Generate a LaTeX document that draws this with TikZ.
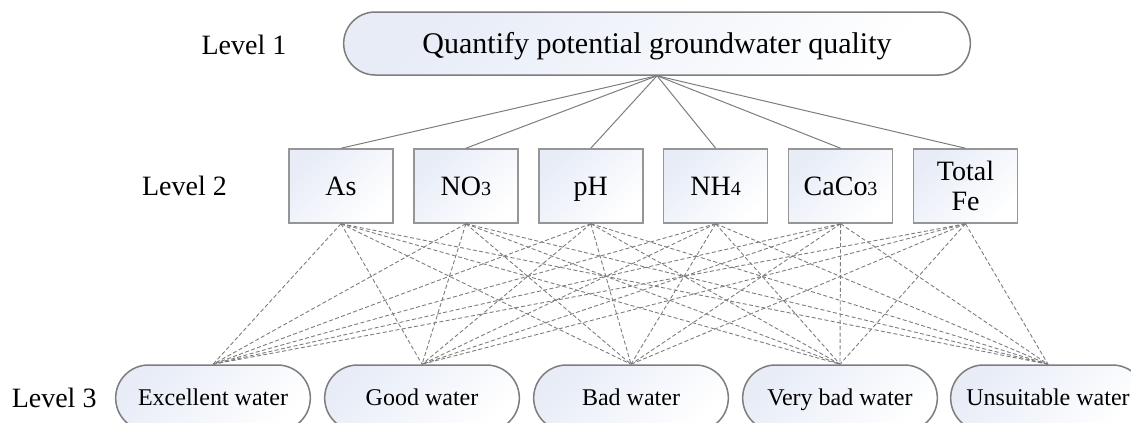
\documentclass[tikz,border=0pt]{standalone}
\usepackage{fontspec}
\setmainfont{Liberation Serif}
\usepackage{tikz}
\usetikzlibrary{positioning}
\usetikzlibrary{shapes.misc}
\definecolor{paleblue}{RGB}{231,236,247}
\definecolor{edgegray}{RGB}{125,125,125}
\definecolor{boxgray}{RGB}{150,150,150}
\definecolor{linkgray}{RGB}{125,125,125}
\newcommand{\lowdigit}[1]{{\fontsize{10}{10}\selectfont #1}}
\tikzset{
    link/.style={draw=linkgray, line width=0.5pt},
    dashlink/.style={draw=linkgray, line width=0.45pt, dash pattern=on 2pt off 1.2pt},
    oneline/.style={text height=13pt, text depth=4pt},
    goal/.style = {
      rounded rectangle,
      draw=edgegray,
      line width=0.75pt,
      top color=paleblue,
      bottom color=white,
      shading angle=45,
      minimum width=320pt,
      minimum height=31.5pt,
      text height=14pt,
      text depth=3.5pt,
      font=\fontsize{15}{17}\selectfont
    },
    crit/.style = {
      rectangle,
      draw=boxgray,
      line width=0.75pt,
      top color=paleblue,
      bottom color=white,
      shading angle=45,
      minimum width=52pt,
      minimum height=37pt,
      align=center,
      font=\fontsize{14}{15}\selectfont
    },
    alt/.style = {
      rounded rectangle,
      draw=edgegray,
      line width=0.75pt,
      top color=paleblue,
      bottom color=white,
      shading angle=45,
      minimum width=104pt,
      minimum height=33pt,
      text height=11pt,
      text depth=4pt,
      font=\fontsize{12}{14}\selectfont
    },
    level/.style = {font=\fontsize{14}{16}\selectfont, inner sep=0pt},
}

\begin{document}
\begin{tikzpicture}[x=0.5pt, y=-0.5pt]
        \useasboundingbox (0,0) rectangle (1131,423);

        % level 1
        \node[goal] (goal) at (657,43.5) {Quantify potential groundwater quality};
        \node[level] (lev1) at (244,45) {Level 1};

        % level 2
        \node[crit, oneline] (as) at (341,186) {As};
        \node[crit, oneline, right=9.7pt of as] (no) {NO\lowdigit{3}};
        \node[crit, oneline, right=9.7pt of no] (ph) {pH};
        \node[crit, oneline, right=9.7pt of ph] (nh) {NH\lowdigit{4}};
        \node[crit, oneline, right=9.7pt of nh] (caco) {CaCo\lowdigit{3}};
        \node[crit, right=9.7pt of caco] (fe) {Total\\Fe};
        \node[level, left=30.5pt of as] (lev2) {Level 2};

        % level 3
        \node[alt] (exc) at (213,398) {Excellent water};
        \node[alt] (good) at (422,398) {Good water};
        \node[alt] (bad) at (631,398) {Bad water};
        \node[alt] (vbad) at (840,398) {Very bad water};
        \node[alt] (unsuit) at (1048,398) {Unsuitable water};
        \node[level, left=9pt of exc] (lev3) {Level 3};

        % links
        \foreach \c in {as,no,ph,nh,caco,fe}
          \draw[link] (goal.south) -- (\c.north);
        \foreach \c in {as,no,ph,nh,caco,fe}
          \foreach \a in {exc,good,bad,vbad,unsuit}
            \draw[dashlink] (\c.south) -- (\a.north);
      \end{tikzpicture}
\end{document}
